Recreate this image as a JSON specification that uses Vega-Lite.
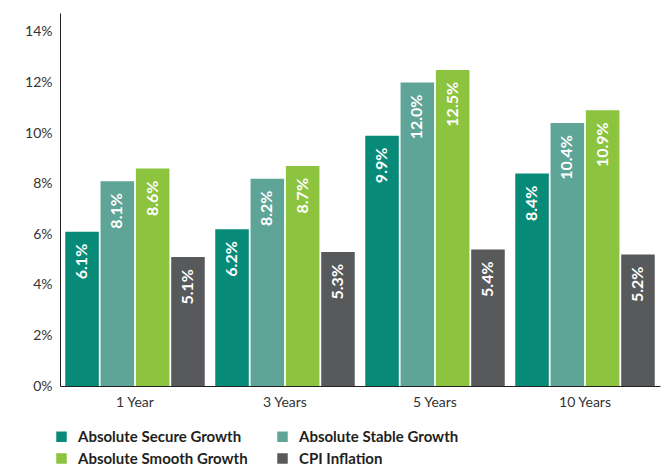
{
  "$schema": "https://vega.github.io/schema/vega-lite/v6.json",
  "width": 600,
  "height": 373,
  "autosize": "none",
  "padding": {"left": 60, "top": 13, "right": 3, "bottom": 79},
  "background": "white",
  "config": {
    "view": {"stroke": null},
    "font": "Lato"
  },
  "data": {
    "values": [
      {"period": "1 Year", "fund": "Absolute Secure Growth", "value": 6.1, "label": "6.1%"},
      {"period": "1 Year", "fund": "Absolute Stable Growth", "value": 8.1, "label": "8.1%"},
      {"period": "1 Year", "fund": "Absolute Smooth Growth", "value": 8.6, "label": "8.6%"},
      {"period": "1 Year", "fund": "CPI Inflation", "value": 5.1, "label": "5.1%"},
      {"period": "3 Years", "fund": "Absolute Secure Growth", "value": 6.2, "label": "6.2%"},
      {"period": "3 Years", "fund": "Absolute Stable Growth", "value": 8.2, "label": "8.2%"},
      {"period": "3 Years", "fund": "Absolute Smooth Growth", "value": 8.7, "label": "8.7%"},
      {"period": "3 Years", "fund": "CPI Inflation", "value": 5.3, "label": "5.3%"},
      {"period": "5 Years", "fund": "Absolute Secure Growth", "value": 9.9, "label": "9.9%"},
      {"period": "5 Years", "fund": "Absolute Stable Growth", "value": 12.0, "label": "12.0%"},
      {"period": "5 Years", "fund": "Absolute Smooth Growth", "value": 12.5, "label": "12.5%"},
      {"period": "5 Years", "fund": "CPI Inflation", "value": 5.4, "label": "5.4%"},
      {"period": "10 Years", "fund": "Absolute Secure Growth", "value": 8.4, "label": "8.4%"},
      {"period": "10 Years", "fund": "Absolute Stable Growth", "value": 10.4, "label": "10.4%"},
      {"period": "10 Years", "fund": "Absolute Smooth Growth", "value": 10.9, "label": "10.9%"},
      {"period": "10 Years", "fund": "CPI Inflation", "value": 5.2, "label": "5.2%"}
    ]
  },
  "encoding": {
    "x": {
      "field": "period", "type": "nominal",
      "sort": ["1 Year", "3 Years", "5 Years", "10 Years"],
      "scale": {"paddingInner": 0.07, "paddingOuter": 0.035},
      "axis": {
        "title": null, "labelAngle": 0, "ticks": false, "domainColor": "#222222",
        "domainWidth": 1, "labelFontSize": 14, "labelColor": "#333333", "labelPadding": 9
      }
    },
    "xOffset": {
      "field": "fund", "type": "nominal",
      "sort": ["Absolute Secure Growth", "Absolute Stable Growth", "Absolute Smooth Growth", "CPI Inflation"],
      "scale": {"paddingInner": 0.05}
    },
    "y": {
      "field": "value", "type": "quantitative",
      "scale": {"domain": [0, 14.75], "nice": false},
      "axis": {
        "title": null, "values": [0, 2, 4, 6, 8, 10, 12, 14], "grid": false, "ticks": false,
        "labelExpr": "datum.value + '%'", "domainColor": "#222222",
        "labelFontSize": 14, "labelColor": "#333333", "labelPadding": 8
      }
    }
  },
  "layer": [
    {
      "mark": {"type": "bar"},
      "encoding": {
        "color": {
          "field": "fund", "type": "nominal",
          "scale": {
            "domain": ["Absolute Secure Growth", "Absolute Stable Growth", "Absolute Smooth Growth", "CPI Inflation"],
            "range": ["#078b78", "#5fa597", "#8cc43f", "#58595b"]
          },
          "legend": {
            "title": null, "orient": "none", "legendX": -6, "legendY": 416,
            "columns": 2, "direction": "horizontal", "columnPadding": 27, "rowPadding": 6,
            "symbolType": "square", "symbolSize": 110, "symbolStrokeWidth": 0,
            "labelFontSize": 15, "labelFontWeight": "bold", "labelColor": "#231f20",
            "labelLimit": 300, "labelOffset": 9
          }
        }
      }
    },
    {
      "mark": {"type": "text", "angle": -90, "align": "right", "baseline": "middle", "dx": -12, "color": "white", "fontSize": 16, "fontWeight": "bold"},
      "encoding": {
        "text": {"field": "label"}
      }
    }
  ]
}
